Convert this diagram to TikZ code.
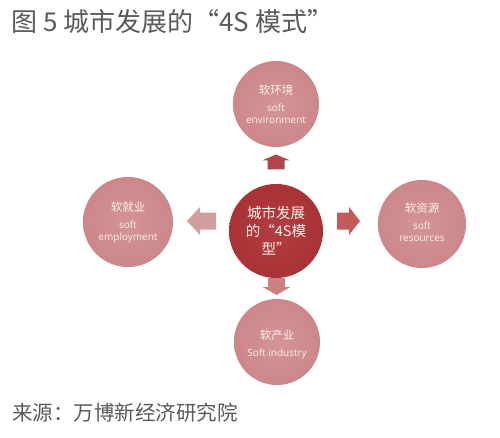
\documentclass[tikz,border=0pt]{standalone}
\usepackage{fontspec}
\setmainfont{Open Sans}
\newfontfamily\cjk{Noto Sans CJK SC}
\definecolor{outerpink}{HTML}{CD878A}
\definecolor{outerpinkin}{HTML}{D39497}
\definecolor{centerred}{HTML}{A93236}
\definecolor{centerredin}{HTML}{B33C40}
\definecolor{txtlight}{HTML}{FBF1EA}
\definecolor{titlegray}{HTML}{5A5A5A}
\definecolor{arrA}{HTML}{B1474A}
\definecolor{arrB}{HTML}{C35A5C}
\definecolor{arrC}{HTML}{CC8082}
\definecolor{arrD}{HTML}{D29FA0}
\newcommand\blockarrow[6]{%
  \fill[#6, shift={(#1,#2)}, rotate=#3]
    (-#4/2,-8.5) -- (#4/2-#5,-8.5) -- (#4/2-#5,-14) -- (#4/2,0)
    -- (#4/2-#5,14) -- (#4/2-#5,8.5) -- (-#4/2,8.5) -- cycle;}
\newcommand\zhfont{\cjk\fontsize{11.5}{14}\selectfont}
\newcommand\enfont{\rmfamily\fontsize{10}{12}\selectfont}
\begin{document}
\begin{tikzpicture}[x=1pt,y=1pt,
  outercirc/.style={circle, inner sep=0pt, inner color=outerpinkin, outer color=outerpink},
  centercirc/.style={circle, inner sep=0pt, inner color=centerredin, outer color=centerred},
  circtxt/.style={align=center, text=txtlight, inner sep=0pt},
]
\useasboundingbox (0,0) rectangle (500,437);
\fill[white] (0,0) rectangle (500,437);
% title and source
\node[anchor=west, inner sep=0pt, text=titlegray, font=\cjk\fontsize{26}{30}\selectfont] (title) at (11,415) {图 5 城市发展的“4S 模式”};
\node[anchor=west, inner sep=0pt, text=titlegray, font=\cjk\fontsize{20.5}{24}\selectfont] (source) at (12,24) {来源：万博新经济研究院};
% circles
\node[outercirc, minimum size=86pt] (top) at (276,333) {};
\node[outercirc, minimum size=90pt] (left) at (128,215) {};
\node[outercirc, minimum size=88pt] (right) at (422,213) {};
\node[outercirc, minimum size=86pt] (bottom) at (277,95) {};
\node[centercirc, minimum size=94pt] (center) at (276,206) {};
% texts
\node[circtxt] (toptxt) at (top) {\zhfont 软环境\\[5pt]\enfont soft\\ \enfont environment};
\node[circtxt] (lefttxt) at (left) {\zhfont 软就业\\[5pt]\enfont soft\\ \enfont employment};
\node[circtxt] (righttxt) at (422,215) {\zhfont 软资源\\[5pt]\enfont soft\\ \enfont resources};
\node[circtxt] (bottomtxt) at (277,93) {\zhfont 软产业\\[5pt]\enfont Soft industry};
\node[circtxt, font=\cjk\fontsize{14.5}{18}\selectfont] (centertxt) at (center) {城市发展\\的“4S模\\型”};
% block arrows
\blockarrow{276}{275}{90}{15}{6}{arrA}
\blockarrow{348.5}{216}{0}{23}{11}{arrB}
\blockarrow{276.5}{150.5}{-90}{17}{8}{arrC}
\blockarrow{201.5}{216}{180}{29}{13}{arrD}
\end{tikzpicture}
\end{document}
